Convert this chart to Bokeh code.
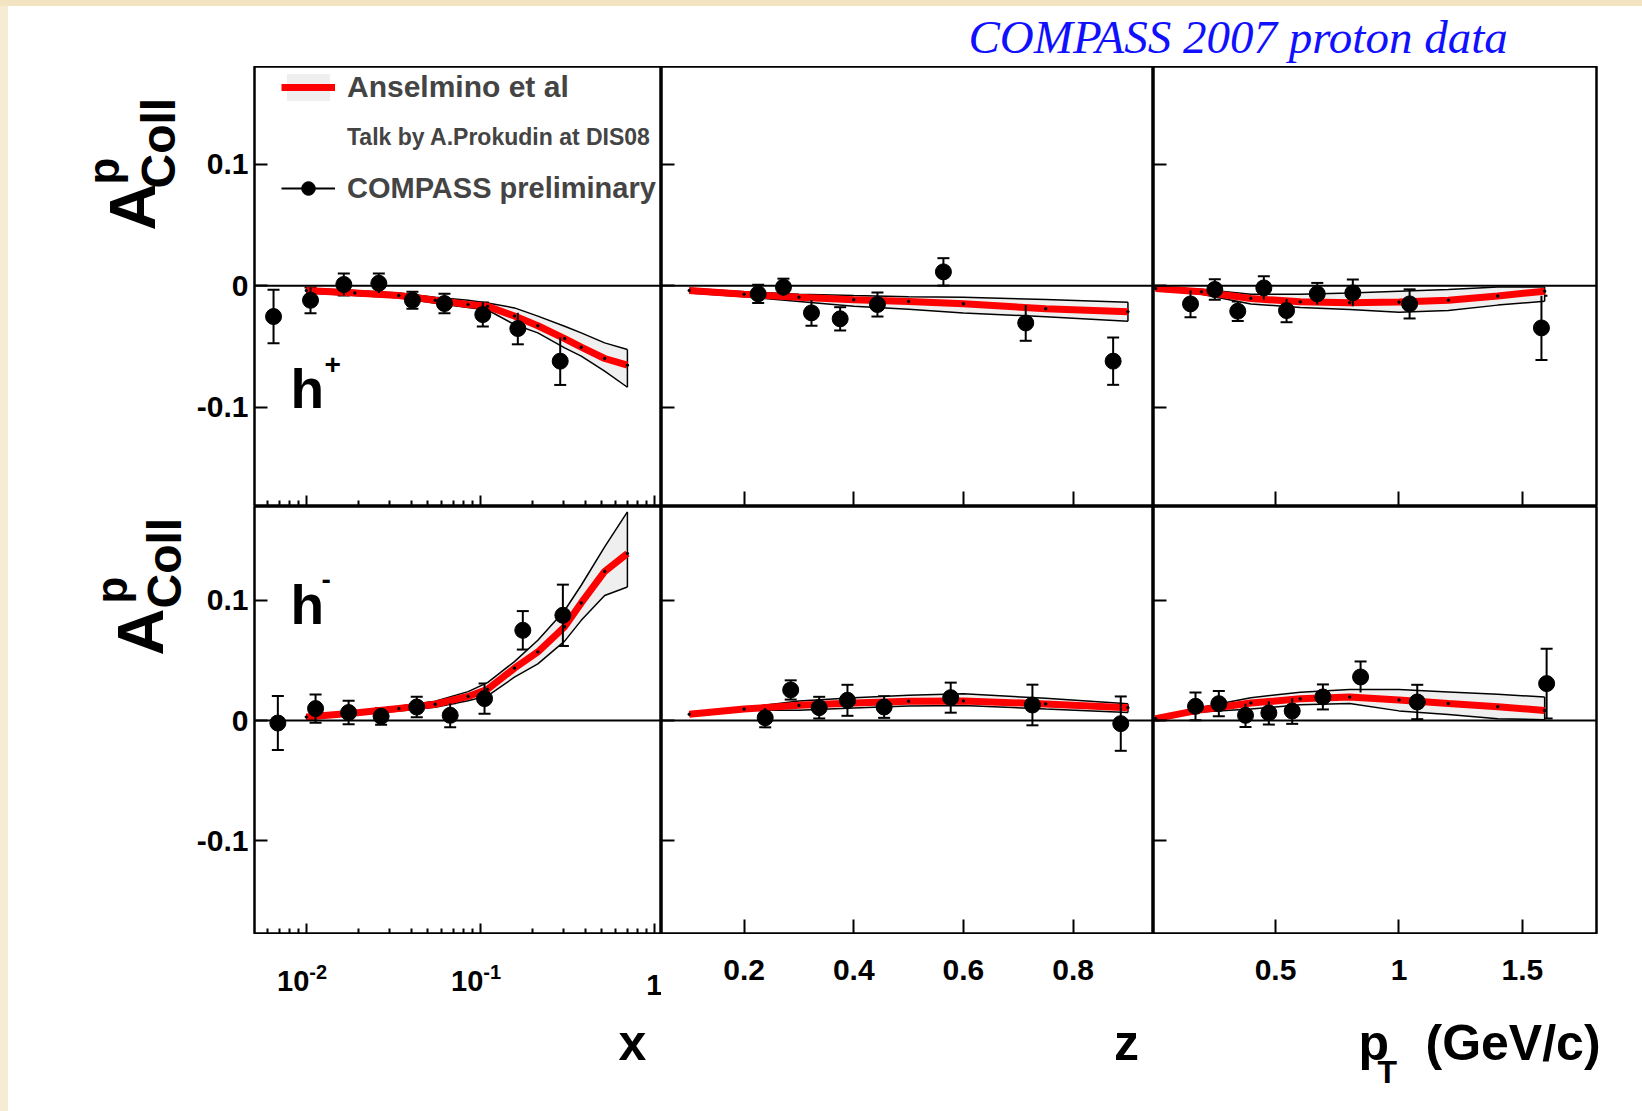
import os
import glob
import subprocess
import numpy as np
from bokeh.plotting import figure
from bokeh.models import (ColumnDataSource, Range1d, FixedTicker, Span, Label, Whisker,
                          TeeHead, Legend, LegendItem, Div)
from bokeh.layouts import row, column
from bokeh.embed import file_html
from bokeh.resources import INLINE

# ---------------- data ----------------
X_MODEL = [0.010, 0.019, 0.034, 0.055, 0.085, 0.110, 0.157, 0.214, 0.305, 0.380, 0.518, 0.700]
HP_X_C = [-0.004, -0.006, -0.008, -0.012, -0.0155, -0.017, -0.025, -0.033, -0.0436, -0.0507, -0.060, -0.0655]
HP_X_HI = [-0.002, -0.004, -0.006, -0.0095, -0.012, -0.0142, -0.0183, -0.0251, -0.0334, -0.0389, -0.0471, -0.0526]
HP_X_LO = [-0.006, -0.008, -0.010, -0.0145, -0.018, -0.020, -0.032, -0.0389, -0.0512, -0.0581, -0.0705, -0.0837]
HM_X_C = [0.0029, 0.0062, 0.0099, 0.0135, 0.020, 0.026, 0.0435, 0.057, 0.078, 0.0978, 0.124, 0.1389]
HM_X_HI = [0.0045, 0.0078, 0.0118, 0.016, 0.024, 0.0315, 0.049, 0.0667, 0.0915, 0.1125, 0.1444, 0.1735]
HM_X_LO = [0.0013, 0.0046, 0.008, 0.011, 0.0165, 0.0205, 0.036, 0.0471, 0.066, 0.0833, 0.104, 0.111]

Z_MODEL = [0.10, 0.20, 0.30, 0.40, 0.50, 0.60, 0.75, 0.90]
HP_Z_C = [-0.004, -0.007, -0.0095, -0.0115, -0.013, -0.0148, -0.019, -0.0215]
HP_Z_HI = [-0.002, -0.005, -0.007, -0.0081, -0.009, -0.0095, -0.0114, -0.0136]
HP_Z_LO = [-0.006, -0.009, -0.013, -0.017, -0.0195, -0.0225, -0.0255, -0.0293]
HM_Z_C = [0.0052, 0.0095, 0.0126, 0.0146, 0.016, 0.0163, 0.0138, 0.0107]
HM_Z_HI = [0.0062, 0.0105, 0.0163, 0.019, 0.021, 0.0222, 0.0185, 0.014]
HM_Z_LO = [0.0042, 0.0085, 0.0085, 0.0105, 0.012, 0.0125, 0.0095, 0.0066]

PT_MODEL = [0.014, 0.2, 0.4, 0.6, 0.8, 1.0, 1.2, 1.4, 1.59]
HP_PT_C = [-0.0023, -0.005, -0.0105, -0.0133, -0.014, -0.0135, -0.012, -0.0085, -0.0045]
HP_PT_HI = [-0.0013, -0.003, -0.007, -0.007, -0.006, -0.0045, -0.0032, -0.001, -0.001]
HP_PT_LO = [-0.0033, -0.007, -0.015, -0.018, -0.0197, -0.0219, -0.0205, -0.016, -0.0128]
HM_PT_C = [0.0016, 0.009, 0.0145, 0.018, 0.0195, 0.017, 0.0141, 0.0115, 0.0083]
HM_PT_HI = [0.0026, 0.011, 0.019, 0.0235, 0.0257, 0.0257, 0.0237, 0.0218, 0.0196]
HM_PT_LO = [0.0006, 0.007, 0.0095, 0.013, 0.0141, 0.008, 0.005, 0.0015, 0.0006]

HP_X = [0.00648, 0.01057, 0.01642, 0.0261, 0.0407, 0.0622, 0.1033, 0.1642, 0.2877]
HP_X_VAL = [-0.0254, -0.012, 0.001, 0.002, -0.012, -0.0147, -0.0238, -0.0353, -0.0622]
HP_X_ERR = [0.022, 0.0106, 0.009, 0.008, 0.007, 0.008, 0.0099, 0.013, 0.0196]
HM_X = [0.00686, 0.0113, 0.0175, 0.0269, 0.0431, 0.0671, 0.1057, 0.1754, 0.298]
HM_X_VAL = [-0.0021, 0.0099, 0.0066, 0.0035, 0.0112, 0.0043, 0.0182, 0.075, 0.0875]
HM_X_ERR = [0.0225, 0.0117, 0.0098, 0.007, 0.0085, 0.010, 0.0125, 0.016, 0.0255]

HP_Z = [0.2257, 0.2718, 0.3229, 0.3752, 0.4432, 0.5635, 0.7136, 0.873]
HP_Z_VAL = [-0.0067, -0.0012, -0.0224, -0.0273, -0.0155, 0.0114, -0.0307, -0.0622]
HP_Z_ERR = [0.0075, 0.007, 0.0106, 0.0096, 0.0099, 0.0113, 0.0147, 0.0195]
HM_Z = [0.2385, 0.285, 0.337, 0.3885, 0.4554, 0.5768, 0.7258, 0.8869]
HM_Z_VAL = [0.0023, 0.0254, 0.0107, 0.0168, 0.0112, 0.019, 0.0129, -0.0026]
HM_Z_ERR = [0.008, 0.008, 0.009, 0.0129, 0.009, 0.0125, 0.0169, 0.0226]

HP_PT = [0.1556, 0.254, 0.347, 0.4526, 0.5446, 0.669, 0.813, 1.043, 1.577]
HP_PT_VAL = [-0.015, -0.0031, -0.021, -0.0018, -0.0205, -0.0067, -0.0059, -0.015, -0.0348]
HP_PT_ERR = [0.011, 0.0085, 0.008, 0.0096, 0.0096, 0.009, 0.011, 0.012, 0.0265]
HM_PT = [0.1758, 0.2703, 0.3784, 0.4729, 0.5675, 0.6918, 0.8444, 1.074, 1.598]
HM_PT_VAL = [0.0118, 0.014, 0.0043, 0.0063, 0.0079, 0.0196, 0.0362, 0.0154, 0.0307]
HM_PT_ERR = [0.0115, 0.0105, 0.0097, 0.0097, 0.0107, 0.0104, 0.0129, 0.0143, 0.029]

Y_TICKS = [-0.1, 0.0, 0.1]
Y_TICK_LABELS = ["-0.1", "0", "0.1"]
X_LOG_TICKS = [0.01, 0.1, 1.0]
X_LOG_MINOR = [0.006, 0.007, 0.008, 0.009, 0.02, 0.03, 0.04, 0.05, 0.06, 0.07, 0.08, 0.09,
               0.2, 0.3, 0.4, 0.5, 0.6, 0.7, 0.8, 0.9]
X_LOG_LABEL_BASE = ["10", "10", "1"]
X_LOG_LABEL_EXP = ["-2", "-1", ""]
Z_TICKS = [0.2, 0.4, 0.6, 0.8]
Z_TICK_LABELS = ["0.2", "0.4", "0.6", "0.8"]
PT_TICKS = [0.5, 1.0, 1.5]
PT_TICK_LABELS = ["0.5", "1", "1.5"]

FONT = "Liberation Sans"


def font_available(name):
    try:
        out = subprocess.run(["fc-list", ":", "family"], capture_output=True, text=True,
                             timeout=20).stdout
        if name.lower() in out.lower():
            return True
    except Exception:
        pass
    key = name.replace(" ", "").lower()
    for d in ["/usr/share/fonts", "/usr/local/share/fonts", os.path.expanduser("~/.fonts")]:
        for f in glob.glob(d + "/**/*", recursive=True):
            if key in os.path.basename(f).lower():
                return True
    return False


if font_available("Liberation Sans Narrow"):
    TALK_FONT, TALK_SIZE = "Liberation Sans Narrow", 28
else:
    TALK_FONT, TALK_SIZE = FONT, 23


def make_fig(width, height, xr, yr, xlog, mbl, mbr, mbb):
    p = figure(width=width, height=height, x_range=Range1d(*xr), y_range=Range1d(*yr),
               x_axis_type="log" if xlog else "linear", output_backend="svg",
               toolbar_location=None, min_border=0)
    p.min_border_left = mbl
    p.min_border_right = mbr
    p.min_border_bottom = mbb
    p.min_border_top = 0
    p.grid.visible = False
    p.outline_line_color = "black"
    p.outline_line_width = 2.5
    p.background_fill_color = "white"
    p.border_fill_color = "white"
    return p


def blank_fig(width, height, xr=(0, 1), xlog=False, mbl=0):
    p = figure(width=width, height=height, x_range=Range1d(*xr), y_range=Range1d(0, 1),
               x_axis_type="log" if xlog else "linear", output_backend="svg",
               toolbar_location=None, min_border=0, x_axis_location=None, y_axis_location=None)
    p.min_border_left = mbl
    p.grid.visible = False
    p.outline_line_color = None
    p.background_fill_color = "white"
    p.border_fill_color = "white"
    return p


def hide_labels(ax):
    ax.major_label_text_font_size = "1px"
    ax.major_label_text_alpha = 0
    ax.major_label_standoff = 0


def style_xaxis(p, ticks, minor, tick_len):
    ax = p.xaxis[0]
    ax.ticker = FixedTicker(ticks=ticks, minor_ticks=minor)
    ax.axis_line_color = None
    ax.major_tick_in = tick_len
    ax.major_tick_out = 0
    ax.minor_tick_in = 6
    ax.minor_tick_out = 0
    ax.major_tick_line_color = "black"
    ax.major_tick_line_width = 2
    ax.minor_tick_line_color = "black"
    ax.minor_tick_line_width = 2
    hide_labels(ax)


def style_yaxis(p, show_labels):
    ax = p.yaxis[0]
    ax.ticker = FixedTicker(ticks=Y_TICKS)
    ax.axis_line_color = None
    ax.major_tick_in = 13
    ax.major_tick_out = 0
    ax.minor_tick_in = 0
    ax.minor_tick_out = 0
    ax.major_tick_line_color = "black"
    ax.major_tick_line_width = 2
    if show_labels:
        ax.major_label_overrides = {t: s for t, s in zip(Y_TICKS, Y_TICK_LABELS)}
        ax.major_label_text_font = FONT
        ax.major_label_text_font_style = "bold"
        ax.major_label_text_font_size = "30px"
        ax.major_label_text_color = "black"
        ax.major_label_standoff = 6
    else:
        hide_labels(ax)


def draw_panel(p, mx, lo, c, hi, px, pv, pe):
    band = p.varea(x=mx, y1=lo, y2=hi, fill_color="#efefef")
    p.line(mx, hi, line_color="black", line_width=1.5)
    p.line(mx, lo, line_color="black", line_width=1.5)
    p.segment(x0=mx[-1:], y0=lo[-1:], x1=mx[-1:], y1=hi[-1:], line_color="black", line_width=1.5)
    red = p.line(mx, c, line_color="#ff0000", line_width=7)
    p.scatter(mx, c, size=2.5, color="black")
    p.add_layout(Span(location=0, dimension="width", line_color="black", line_width=2))
    v = np.array(pv)
    e = np.array(pe)
    src = ColumnDataSource(dict(x=list(px), y=list(v), lo=list(v - e), hi=list(v + e)))
    seg = p.segment(x0="x", y0="lo", x1="x", y1="hi", source=src, line_color="black", line_width=2)
    p.add_layout(Whisker(source=src, base="x", upper="hi", lower="lo", line_alpha=0,
                         upper_head=TeeHead(size=12, line_width=2, line_color="black"),
                         lower_head=TeeHead(size=12, line_width=2, line_color="black")))
    pts = p.scatter("x", "y", source=src, size=16, color="black")
    return band, red, seg, pts


def lab(p, x, y, text, size, xu="screen", yu="screen", align="left", baseline="middle",
        angle=0.0, style="bold", font=FONT, color="black", x_offset=0):
    p.add_layout(Label(x=x, y=y, x_units=xu, y_units=yu, text=text, text_font=font,
                       text_font_size=f"{size}px", text_font_style=style, text_color=color,
                       text_align=align, text_baseline=baseline, angle=angle, x_offset=x_offset))


XR_LOG = (0.005037, 1.099)
XR_Z = (0.0494, 0.9466)
XR_PT = (0.0057, 1.80)
YR_TOP = (-0.182, 0.1807)
YR_BOT = (-0.178, 0.178)

WL = 180            # left label column
W1, W2, W3 = 473, 492, 489
ML1, MR3 = 66, 46   # inner borders
H1, H2, HS = 440, 428, 177
XR_PT_STRIP = (XR_PT[0], XR_PT[0] + (XR_PT[1] - XR_PT[0]) * W3 / (W3 - MR3))

f11 = make_fig(W1, H1, XR_LOG, YR_TOP, True, ML1, 0, 0)
f12 = make_fig(W2, H1, XR_Z, YR_TOP, False, 0, 0, 0)
f13 = make_fig(W3, H1, XR_PT, YR_TOP, False, 0, MR3, 0)
f21 = make_fig(W1, H2, XR_LOG, YR_BOT, True, ML1, 0, 0)
f22 = make_fig(W2, H2, XR_Z, YR_BOT, False, 0, 0, 0)
f23 = make_fig(W3, H2, XR_PT, YR_BOT, False, 0, MR3, 0)

for f in (f11, f21):
    style_xaxis(f, X_LOG_TICKS, X_LOG_MINOR, 11)
for f in (f12, f22):
    style_xaxis(f, Z_TICKS, [], 15)
for f in (f13, f23):
    style_xaxis(f, PT_TICKS, [], 15)
for f, show in [(f11, True), (f21, True), (f12, False), (f22, False), (f13, False), (f23, False)]:
    style_yaxis(f, show)

band, red, seg, pts = draw_panel(f11, X_MODEL, HP_X_LO, HP_X_C, HP_X_HI, HP_X, HP_X_VAL, HP_X_ERR)
draw_panel(f12, Z_MODEL, HP_Z_LO, HP_Z_C, HP_Z_HI, HP_Z, HP_Z_VAL, HP_Z_ERR)
draw_panel(f13, PT_MODEL, HP_PT_LO, HP_PT_C, HP_PT_HI, HP_PT, HP_PT_VAL, HP_PT_ERR)
draw_panel(f21, X_MODEL, HM_X_LO, HM_X_C, HM_X_HI, HM_X, HM_X_VAL, HM_X_ERR)
draw_panel(f22, Z_MODEL, HM_Z_LO, HM_Z_C, HM_Z_HI, HM_Z, HM_Z_VAL, HM_Z_ERR)
draw_panel(f23, PT_MODEL, HM_PT_LO, HM_PT_C, HM_PT_HI, HM_PT, HM_PT_VAL, HM_PT_ERR)

# legend: one single-item legend per row
inv = f11.line(X_MODEL, HP_X_C, line_alpha=0)
LEG_ITEMS = [("Anselmino et al", [band, red], FONT, 30, 402),
             ("Talk by A.Prokudin at DIS08", [inv], TALK_FONT, TALK_SIZE, 352),
             ("COMPASS preliminary", [seg, pts], FONT, 29, 301)]
for text, rends, fnt, fs, vy in LEG_ITEMS:
    f11.add_layout(Legend(items=[LegendItem(label=text, renderers=rends)],
                          location=(27, vy), margin=0, padding=0, spacing=0,
                          glyph_width=54, glyph_height=34, label_height=34, label_standoff=12,
                          label_text_font=fnt, label_text_font_style="bold",
                          label_text_font_size=f"{fs}px",
                          border_line_color=None, background_fill_alpha=0))

# h+ / h- labels
lab(f11, 36, 118, "h", 55)
lab(f11, 70, 142, "+", 28)
lab(f21, 36, 330, "h", 55)
lab(f21, 67, 355, "-", 28)

# y-axis titles in one label column spanning both rows
A90 = np.pi / 2
ylab = blank_fig(WL, H1 + H2)
lab(ylab, 124, 704, "A", 65, angle=A90)
lab(ylab, 95, 750, "p", 44, angle=A90)
lab(ylab, 150, 746, "Coll", 48, angle=A90)
lab(ylab, 132, 279, "A", 65, angle=A90)
lab(ylab, 103, 331, "p", 44, angle=A90)
lab(ylab, 156, 326, "Coll", 48, angle=A90)

# bottom strips: tick labels and axis titles
s0 = blank_fig(WL, HS)
s1 = blank_fig(W1, HS, XR_LOG, True, ML1)
s2 = blank_fig(W2, HS, XR_Z)
s3 = blank_fig(W3, HS, XR_PT_STRIP)
for t, b, ex in zip(X_LOG_TICKS, X_LOG_LABEL_BASE, X_LOG_LABEL_EXP):
    if ex:
        lab(s1, t, 131, b, 29, xu="data", align="right", x_offset=3)
        lab(s1, t, 140, ex, 20, xu="data", align="left", x_offset=3)
    else:
        lab(s1, t, 127, b, 29, xu="data", align="center")
for t, s in zip(Z_TICKS, Z_TICK_LABELS):
    lab(s2, t, 142, s, 30, xu="data", align="center")
for t, s in zip(PT_TICKS, PT_TICK_LABELS):
    lab(s3, t, 142, s, 30, xu="data", align="center")
lab(s1, 378, 69, "x", 50, align="center")
lab(s2, 465, 69, "z", 50, align="center")
lab(s3, 205, 69, "p", 50)
lab(s3, 224, 40, "T", 32)
lab(s3, 272, 69, "(GeV/c)", 50)

# header with title
header = blank_fig(WL + W1 + W2 + W3, 60)
lab(header, 960, 29.5, "COMPASS 2007 proton data", 47, style="italic",
    font="Liberation Serif", color="#1010ff")

top_strip = Div(text="", width=1642, height=6, margin=0,
                styles={"background-color": "#f2e4c0"})
left_strip = Div(text="", width=8, height=1105, margin=0,
                 styles={"background-color": "#f6ecd3"})

panels = column(row(f11, f12, f13), row(f21, f22, f23))
grid = column(header,
              row(ylab, panels),
              row(s0, s1, s2, s3))
layout = column(top_strip, row(left_strip, grid))

open("out.html", "w").write(file_html(layout, INLINE))
